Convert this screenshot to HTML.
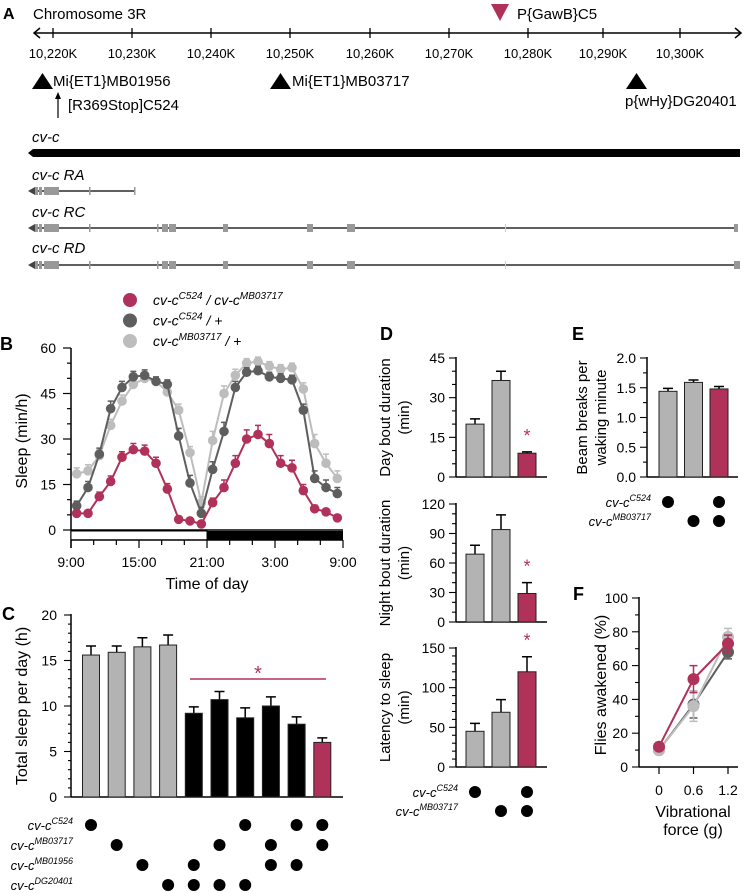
<!DOCTYPE html>
<html><head><meta charset="utf-8"><style>
body{margin:0;background:#fff}
svg{display:block;font-family:"Liberation Sans",Arial,sans-serif}
.it{font-style:italic}
</style></head><body>
<svg id="fig" width="745" height="893" viewBox="0 0 745 893">
<g id="pa">
<text x="3" y="19" font-size="16" font-weight="bold">A</text>
<text x="33" y="19" font-size="15">Chromosome 3R</text>
<polygon points="491,4 509,4 500,21" fill="#b0325a"/>
<text x="517" y="19" font-size="15">P{GawB}C5</text>
<line x1="34" y1="33" x2="741" y2="33" stroke="#000" stroke-width="1.5"/>
<polyline points="40,28 34,33 40,38" fill="none" stroke="#000" stroke-width="1.5"/>
<polyline points="735,28 741,33 735,38" fill="none" stroke="#000" stroke-width="1.5"/>
<g id="aticks"></g>
<polygon points="32,89 53,89 42.5,73" fill="#000"/>
<text x="53" y="86" font-size="15">Mi{ET1}MB01956</text>
<polygon points="270,89 291,89 280.5,73" fill="#000"/>
<text x="292" y="86" font-size="15">Mi{ET1}MB03717</text>
<polygon points="626,89 647,89 636.5,73" fill="#000"/>
<text x="625" y="106" font-size="15">p{wHy}DG20401</text>
<line x1="58" y1="118" x2="58" y2="97" stroke="#000" stroke-width="1.2"/>
<polygon points="55,99 61,99 58,92" fill="#000"/>
<text x="68" y="110" font-size="15">[R369Stop]C524</text>
<text x="32" y="142" font-size="15" class="it">cv-c</text>
<polygon points="28,153 33,149 740,149 740,157 33,157" fill="#000"/>
<text x="32" y="180" font-size="15" class="it">cv-c RA</text>
<text x="32" y="217" font-size="15" class="it">cv-c RC</text>
<text x="32" y="253" font-size="15" class="it">cv-c RD</text>
<g id="transcripts"></g>
</g>
<text x="0" y="350" font-size="18" font-weight="bold">B</text>
<text x="2" y="620" font-size="18" font-weight="bold">C</text>
<text x="380" y="340" font-size="18" font-weight="bold">D</text>
<text x="572" y="340" font-size="18" font-weight="bold">E</text>
<text x="573" y="600" font-size="18" font-weight="bold">F</text>
<g id="pb"></g>
<g id="pc"></g>
<g id="pd"></g>
<g id="pe"></g>
<g id="pf"></g>
</svg>
<script>
// ---- data ----
const chromTickLabels=["10,220K","10,230K","10,240K","10,250K","10,260K","10,270K","10,280K","10,290K","10,300K"];
const hoursB=["9:00","15:00","21:00","3:00","9:00"];
const sleepMutant=[5.5,5.5,11,16,24,26.5,26,22,13.5,3.5,3,2,9,14,22,30,31.5,28.5,22,20.5,13,7,6,4];
const sleepC524=[8,14,25,40,47,50.5,51,49,48,31,15.5,5.5,20,32.5,47,52,52.5,50.5,50,49.5,39.5,17,14,12];
const sleepMB03717=[18.5,19.5,24.5,34.5,42.5,48,50,49,45.5,39.5,25.5,9,29.5,45,51,55,55.5,54,53,53.5,46.5,28.5,22,17];
const semMutant=[1,1,1.5,1.8,1.8,2,2,2,1.8,1,1,1,1.5,2.5,2.5,3,3,3,2.5,2.5,2,1.2,1,1];
const semC524=[1.5,2,2,2.5,2,1.8,1.8,1.5,1.5,2.5,2.5,2,2.5,3,2,1.5,1.5,1.5,1.5,1.5,2,2.5,2.5,2];
const semMB03717=[2,2,2,2,2,2,1.8,1.5,1.5,2,2,2,3,2.5,2,1.5,1.5,1.5,1.5,1.5,2,3,3,2.5];
const yTicksB=[0,15,30,45,60];
const totalSleep=[15.6,15.9,16.5,16.7,9.2,10.7,8.7,10.0,8.0,6.0];
const totalSleepErr=[1.0,0.7,1.0,1.1,0.7,0.9,1.1,1.0,0.8,0.5];
const yTicksC=[0,5,10,15,20];
const genoRowsC=["C524","MB03717","MB01956","DG20401"];
const genoC524=[1,0,0,0,0,0,1,0,1,1];
const genoMB03717=[0,1,0,0,0,1,0,1,0,1];
const genoMB01956=[0,0,1,0,1,0,0,1,1,0];
const genoDG20401=[0,0,0,1,1,1,1,0,0,0];
const dayBout=[20,36.5,9];const dayBoutErr=[2,3.5,0.5];
const nightBout=[69,94,29];const nightBoutErr=[9,15,11];
const latency=[45,69,120];const latencyErr=[10,16,19];
const beamBreaks=[1.44,1.59,1.48];const beamErr=[0.05,0.04,0.04];
const forceCats=["0","0.6","1.2"];
const awakeMutant=[12,52,73];const awakeMutantErr=[2,8,5];
const awakeC524=[10,37,68];const awakeC524Err=[1,8,4];
const awakeMB03717=[10,36,77];const awakeMB03717Err=[1,9,5];

const MAG="#b0325a",DK="#5e5e5e",LT="#bdbdbd",BG="#b3b3b3";
const NS="http://www.w3.org/2000/svg";
function mk(tag,parent,attrs){const e=document.createElementNS(NS,tag);for(const k in attrs)e.setAttribute(k,attrs[k]);parent.appendChild(e);return e;}
function txt(parent,x,y,s,size,anchor,extra){const t=mk('text',parent,Object.assign({x:x,y:y,'font-size':size,'text-anchor':anchor||'start'},extra||{}));t.textContent=s;return t;}

// ---- panel A ticks ----
const aT=document.getElementById('aticks');
const aX=[53,132,211,290,370,449,528,603,680];
chromTickLabels.forEach((l,i)=>{
 const ln=mk('line',aT,{x1:aX[i],y1:28,x2:aX[i],y2:38,stroke:'#000','stroke-width':1.3});
 
 
 const t=txt(aT,aX[i],58,l,13,'middle');
 
 
});
const tr=document.getElementById('transcripts');
function transcript(y,end,exons,name){
 const g=mk('g',tr,{});
 
 
 mk('line',g,{x1:30,y1:y,x2:end,y2:y,stroke:'#000','stroke-width':1.2});
 mk('polygon',g,{points:`28,${y} 35,${y-4} 35,${y+4}`,fill:'#444'});
 exons.forEach(e=>mk('rect',g,{x:e[0],y:y-4,width:e[1],height:8,fill:e[2]||'#999'}));
}
const base=[[35,3],[39,3],[44,15],[89,1.5]];
transcript(191,135,base.concat([[134,1.5]]),'transcript-ra');
const long=base.concat([[157,1.5],[162,6],[169,7],[223,5],[307,6],[347,8],[505,1,'#ccc'],[734,4]]);
transcript(228,738,long,'transcript-rc');
transcript(265,740,long.concat([[738,2]]),'transcript-rd');

// ---- panel B ----
const pb=document.getElementById('pb');
const xB=h=>71+h*(272/24), yB=v=>530-v*(182/60);
[[MAG,'cv-c','C524','/ cv-c','MB03717',''],[DK,'cv-c','C524','/ +','',''],[LT,'cv-c','MB03717','/ +','','']].forEach((r,i)=>{
 const y=300+i*20.5;
 const c=mk('circle',pb,{cx:130,cy:y,r:7,fill:r[0]});
 
 
 const t=mk('text',pb,{x:153,y:y+5,'font-size':14,'font-style':'italic'});
 
 
 t.innerHTML=i==0?`cv-c<tspan font-size="10" dy="-6">C524</tspan><tspan dy="6"> / cv-c</tspan><tspan font-size="10" dy="-6">MB03717</tspan>`:
  `cv-c<tspan font-size="10" dy="-6">${r[2]}</tspan><tspan dy="6"> / +</tspan>`;
});
mk('line',pb,{x1:71,y1:348,x2:71,y2:548,stroke:'#000','stroke-width':1.5});
mk('line',pb,{x1:71,y1:530,x2:343,y2:530,stroke:'#000','stroke-width':1.5});
for(let v=0;v<=60;v+=5){mk('line',pb,{x1:v%15?67:63,y1:yB(v),x2:71,y2:yB(v),stroke:'#000','stroke-width':1.2});}
yTicksB.forEach(v=>{const t=txt(pb,56,yB(v)+5,String(v),14,'end');});
const ld=mk('rect',pb,{x:71,y:531,width:xB(12)-71,height:9,fill:'#fff',stroke:'#000','stroke-width':1});

const dk=mk('rect',pb,{x:xB(12),y:531,width:xB(24)-xB(12),height:9,fill:'#000'});

mk('line',pb,{x1:71,y1:540,x2:343,y2:540,stroke:'#000','stroke-width':1.5});
for(let h=0;h<=24;h+=2){mk('line',pb,{x1:xB(h),y1:540,x2:xB(h),y2:h%6?545:548,stroke:'#000','stroke-width':1.2});}
hoursB.forEach((l,i)=>{const t=txt(pb,xB(i*6),567,l,14,'middle');});
let t=txt(pb,207,589,'Time of day',16,'middle');
t=txt(pb,0,0,'Sleep (min/h)',16,'middle',{transform:'translate(27,441) rotate(-90)'});
[[sleepMB03717,semMB03717,LT,'series-mb03717'],[sleepC524,semC524,DK,'series-c524'],[sleepMutant,semMutant,MAG,'series-transheterozygote']].forEach(s=>{
 const g=mk('g',pb,{});
 
 
 s[0].forEach((v,i)=>{const x=xB(i+0.5);mk('path',g,{d:`M${x},${yB(v)}V${yB(v+s[1][i])}M${x-3},${yB(v+s[1][i])}H${x+3}`,stroke:s[2],'stroke-width':1.5,fill:'none'});});
 const l=mk('polyline',g,{points:s[0].map((v,i)=>xB(i+0.5)+','+yB(v)).join(' '),fill:'none',stroke:s[2],'stroke-width':2});
 
 s[0].forEach((v,i)=>{const c=mk('circle',g,{cx:xB(i+0.5),cy:yB(v),r:4.8,fill:s[2]});
 });
});

// ---- panel C ----
const pc=document.getElementById('pc');
const yC=v=>797-v*(182/20), xC=i=>91+i*25.7;
mk('line',pc,{x1:71,y1:614,x2:71,y2:797,stroke:'#000','stroke-width':1.5});
mk('line',pc,{x1:71,y1:797,x2:343,y2:797,stroke:'#000','stroke-width':1.5});
for(let v=0;v<=20;v+=1){mk('line',pc,{x1:v%5?68:64,y1:yC(v),x2:71,y2:yC(v),stroke:'#000','stroke-width':1.1});}
yTicksC.forEach(v=>{const t=txt(pc,57,yC(v)+5,String(v),14,'end');});
t=txt(pc,0,0,'Total sleep per day (h)',16,'middle',{transform:'translate(27,706) rotate(-90)'});
totalSleep.forEach((v,i)=>{
 const col=i<4?BG:(i==9?MAG:'#000');
 mk('path',pc,{d:`M${xC(i)},${yC(v)}V${yC(v+totalSleepErr[i])}M${xC(i)-5},${yC(v+totalSleepErr[i])}H${xC(i)+5}`,stroke:'#000','stroke-width':1.5});
 const b=mk('rect',pc,{x:xC(i)-8.5,y:yC(v),width:17,height:yC(0)-yC(v),fill:col,stroke:'#222','stroke-width':1});
 
 
});
mk('line',pc,{x1:190,y1:679,x2:326,y2:679,stroke:MAG,'stroke-width':1.5});
t=txt(pc,258,680,'*',20,'middle',{fill:MAG});
[genoC524,genoMB03717,genoMB01956,genoDG20401].forEach((row,r)=>{
 const y=825+r*20;
 const lab=mk('text',pc,{x:73,y:y+5,'font-size':13,'font-style':'italic','text-anchor':'end'});
 
 
 lab.innerHTML=`cv-c<tspan font-size="9" dy="-6">${genoRowsC[r]}</tspan>`;
 row.forEach((on,i)=>{if(on){const c=mk('circle',pc,{cx:xC(i),cy:y,r:6,fill:'#000'});}});
});

// ---- small bar panels ----
function barPanel(g,y0,y1,max,ticks,minorStep,vals,errs,x0,xend,cx,title1,title2,titleX,fmt,star,name){
 const sub=mk('g',g,{});
 
 
 const ys=v=>y0-v*(y0-y1)/max;
 mk('line',sub,{x1:x0,y1:y1-1,x2:x0,y2:y0,stroke:'#000','stroke-width':1.5});
 mk('line',sub,{x1:x0,y1:y0,x2:xend,y2:y0,stroke:'#000','stroke-width':1.5});
 for(let v=0;v<=max+1e-9;v+=minorStep){const maj=ticks.some(tk=>Math.abs(tk-v)<1e-6);mk('line',sub,{x1:maj?x0-7:x0-4,y1:ys(v),x2:x0,y2:ys(v),stroke:'#000','stroke-width':1.1});}
 ticks.forEach(v=>{const t=txt(sub,x0-11,ys(v)+5,fmt(v),14,'end');});
 vals.forEach((v,i)=>{
  const x=cx(i);
  mk('path',sub,{d:`M${x},${ys(v)}V${ys(v+errs[i])}M${x-5},${ys(v+errs[i])}H${x+5}`,stroke:'#000','stroke-width':1.5});
  const b=mk('rect',sub,{x:x-9,y:ys(v),width:18,height:ys(0)-ys(v),fill:i==2?MAG:BG,stroke:'#222','stroke-width':1});
  
  
 });
 if(star){const t=txt(sub,cx(2),ys(vals[2]+errs[2])-10,'*',18,'middle',{fill:MAG});}
 const tl=mk('text',sub,{'font-size':15,'text-anchor':'middle',transform:`translate(${titleX},${(y0+y1)/2}) rotate(-90)`});
 
 
 tl.innerHTML=`<tspan x="0" dy="-4">${title1}</tspan><tspan x="0" dy="19">${title2}</tspan>`;
}
const pd=document.getElementById('pd');
const xD=i=>475+i*26;
barPanel(pd,477,358,45,[0,15,30,45],5,dayBout,dayBoutErr,456,547,xD,'Day bout duration','(min)',394,v=>String(v),1,'day-bout-chart');
barPanel(pd,622,504,120,[0,30,60,90,120],10,nightBout,nightBoutErr,456,547,xD,'Night bout duration','(min)',394,v=>String(v),1,'night-bout-chart');
barPanel(pd,767,648,150,[0,50,100,150],10,latency,latencyErr,456,547,xD,'Latency to sleep','(min)',394,v=>String(v),1,'latency-chart');
function dots2(g,xf,labX,y1,y2){
 [['C524',[1,0,1],y1],['MB03717',[0,1,1],y2]].forEach(r=>{
  const lab=mk('text',g,{x:labX,y:r[2]+5,'font-size':13,'font-style':'italic','text-anchor':'end'});
  
  
  lab.innerHTML=`cv-c<tspan font-size="9" dy="-6">${r[0]}</tspan>`;
  r[1].forEach((on,i)=>{if(on){const c=mk('circle',g,{cx:xf(i),cy:r[2],r:6,fill:'#000'});}});
 });
}
dots2(pd,xD,458,792,811);
const pe=document.getElementById('pe');
const xE=i=>668+i*25.5;
barPanel(pe,477,358,2,[0,0.5,1,1.5,2],0.25,beamBreaks,beamErr,647,738,xE,'Beam breaks per','waking minute',591,v=>v.toFixed(1),0,'beam-breaks-chart');
dots2(pe,xE,651,502,521);

// ---- panel F ----
const pf=document.getElementById('pf');
const yF=v=>767-v*(169/100), xF=i=>659+i*34.5;
mk('line',pf,{x1:639,y1:597,x2:639,y2:767,stroke:'#000','stroke-width':1.5});
mk('line',pf,{x1:639,y1:767,x2:738,y2:767,stroke:'#000','stroke-width':1.5});
for(let v=0;v<=100;v+=10){mk('line',pf,{x1:v%20?635:632,y1:yF(v),x2:639,y2:yF(v),stroke:'#000','stroke-width':1.1});}
[0,20,40,60,80,100].forEach(v=>{const t=txt(pf,628,yF(v)+5,String(v),14,'end');});
forceCats.forEach((c,i)=>{mk('line',pf,{x1:xF(i),y1:767,x2:xF(i),y2:774,stroke:'#000','stroke-width':1.2});const t=txt(pf,xF(i),795,c,14,'middle');});
t=txt(pf,693,817,'Vibrational',16,'middle');
t=txt(pf,693,835,'force (g)',16,'middle');
t=txt(pf,0,0,'Flies awakened (%)',16,'middle',{transform:'translate(606,685) rotate(-90)'});
[[awakeC524,awakeC524Err,DK,'series-c524'],[awakeMB03717,awakeMB03717Err,LT,'series-mb03717'],[awakeMutant,awakeMutantErr,MAG,'series-transheterozygote']].forEach(s=>{
 const g=mk('g',pf,{});
 
 
 s[0].forEach((v,i)=>{const x=xF(i);mk('path',g,{d:`M${x},${yF(v-s[1][i])}V${yF(v+s[1][i])}M${x-4},${yF(v+s[1][i])}H${x+4}M${x-4},${yF(v-s[1][i])}H${x+4}`,stroke:s[2],'stroke-width':1.5});});
 mk('polyline',g,{points:s[0].map((v,i)=>xF(i)+','+yF(v)).join(' '),fill:'none',stroke:s[2],'stroke-width':2});
 s[0].forEach((v,i)=>{const c=mk('circle',g,{cx:xF(i),cy:yF(v),r:6,fill:s[2]});});
});
</script>
</body></html>
